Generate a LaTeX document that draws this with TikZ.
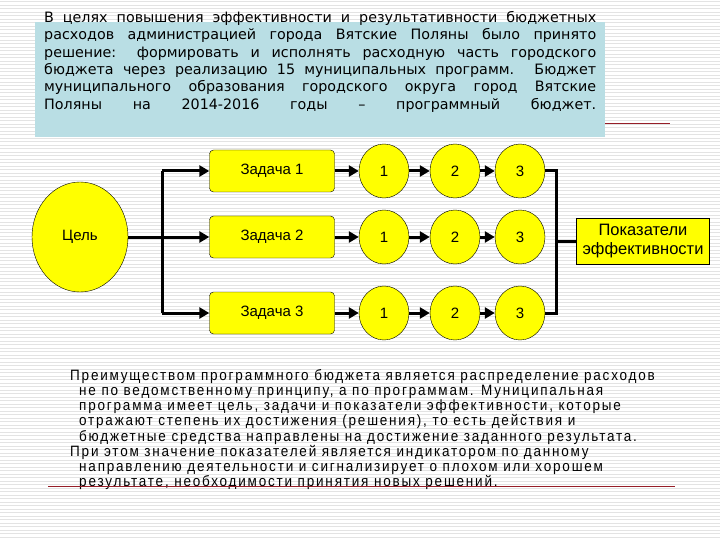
\documentclass[tikz,border=0pt]{standalone}
\usepackage{fontspec}
\setmainfont{DejaVu Sans}
\newfontfamily\arfont{Liberation Sans}
\newfontfamily\narrowfont[FakeStretch=0.9,LetterSpace=12]{Liberation Sans}
\usetikzlibrary{arrows.meta,shapes.geometric}
\definecolor{bluebox}{RGB}{185,222,228}
\definecolor{yel}{RGB}{255,255,0}
\definecolor{dred}{RGB}{150,30,40}
\newcommand{\jl}[1]{\makebox[552pt][s]{#1}}
\begin{document}
\begin{tikzpicture}[x=1pt,y=-1pt,
  task/.style={draw=black,fill=yel,rounded corners=4pt,minimum width=125pt,minimum height=42pt,font=\arfont\fontsize{15}{18}\selectfont},
  num/.style={draw=black,fill=yel,ellipse,minimum width=50pt,minimum height=54pt,font=\arfont\fontsize{15}{18}\selectfont},
  conn/.style={line width=3pt},
  arr/.style={line width=3pt,-{Triangle[length=10pt,width=11pt]}}]
\useasboundingbox (0,0) rectangle (720,540);
\fill[white] (0,0) rectangle (720,540);
\foreach \y in {1.5,5,...,540} \draw[gray!22,line width=0.9pt] (0,\y) -- (720,\y);
% top box
\fill[bluebox] (35,22) rectangle (605,137);
\node[anchor=north west,inner sep=0pt,align=left,font=\fontsize{14.3}{17.4}\selectfont] (toptext) at (44,11)
 {\jl{В целях повышения эффективности и результативности бюджетных}\\
  \jl{расходов администрацией города Вятские Поляны было принято}\\
  \jl{решение: формировать и исполнять расходную часть городского}\\
  \jl{бюджета через реализацию 15 муниципальных программ. Бюджет}\\
  \jl{муниципального образования городского округа город Вятские}\\
  \jl{Поляны на 2014-2016 годы – программный бюджет.}};
\draw[dred,line width=0.8pt] (605,123) -- (670,123);
% goal
\node[draw=black,fill=yel,ellipse,minimum width=96pt,minimum height=110pt,font=\arfont\fontsize{15}{18}\selectfont] (goal) at (80,237) {Цель};
\coordinate (tr) at (162,237);
\coordinate (t1) at (162,171);
\coordinate (t3) at (162,313);
\foreach \r/\y in {1/171,2/237,3/313}{
  \node[task] (z\r) at (272,\y) {Задача \r};
  \node[num] (a\r) at (384,\y) {1};
  \node[num] (b\r) at (455,\y) {2};
  \node[num] (c\r) at (520,\y) {3};
  \draw[arr] (z\r) -- (a\r);
  \draw[arr] (a\r) -- (b\r);
  \draw[arr] (b\r) -- (c\r);
}
\draw[conn] (goal.east) -- (tr);
\draw[conn] (t1) -- (t3);
\draw[arr] (t1) -- (z1.west);
\draw[arr] (tr) -- (z2.west);
\draw[arr] (t3) -- (z3.west);
\node[draw=black,fill=yel,minimum width=133pt,minimum height=46pt,inner sep=1pt,align=center,font=\arfont\fontsize{16.5}{19}\selectfont] (pk) at (643,241) {Показатели\\эффективности};
\coordinate (r1) at (556,171);
\coordinate (r3) at (556,313);
\coordinate (rm) at (556,241);
\draw[conn] (c1.east) -- (r1) -- (r3) -- (c3.east);
\draw[conn] (rm) -- (pk.west);
% bottom text
\node[anchor=north west,inner sep=0pt,align=left,font=\narrowfont\fontsize{15}{15.2}\selectfont] (bt) at (70,369)
 {Преимуществом программного бюджета является распределение расходов\\
 \hspace*{9pt}не по ведомственному принципу, а по программам. Муниципальная\\
 \hspace*{9pt}программа имеет цель, задачи и показатели эффективности, которые\\
 \hspace*{9pt}отражают степень их достижения (решения), то есть действия и\\
 \hspace*{9pt}бюджетные средства направлены на достижение заданного результата.\\
 При этом значение показателей является индикатором по данному\\
 \hspace*{9pt}направлению деятельности и сигнализирует о плохом или хорошем\\
 \hspace*{9pt}результате, необходимости принятия новых решений.};
\draw[dred,line width=0.8pt] (48,486) -- (675,486);
\end{tikzpicture}
\end{document}
